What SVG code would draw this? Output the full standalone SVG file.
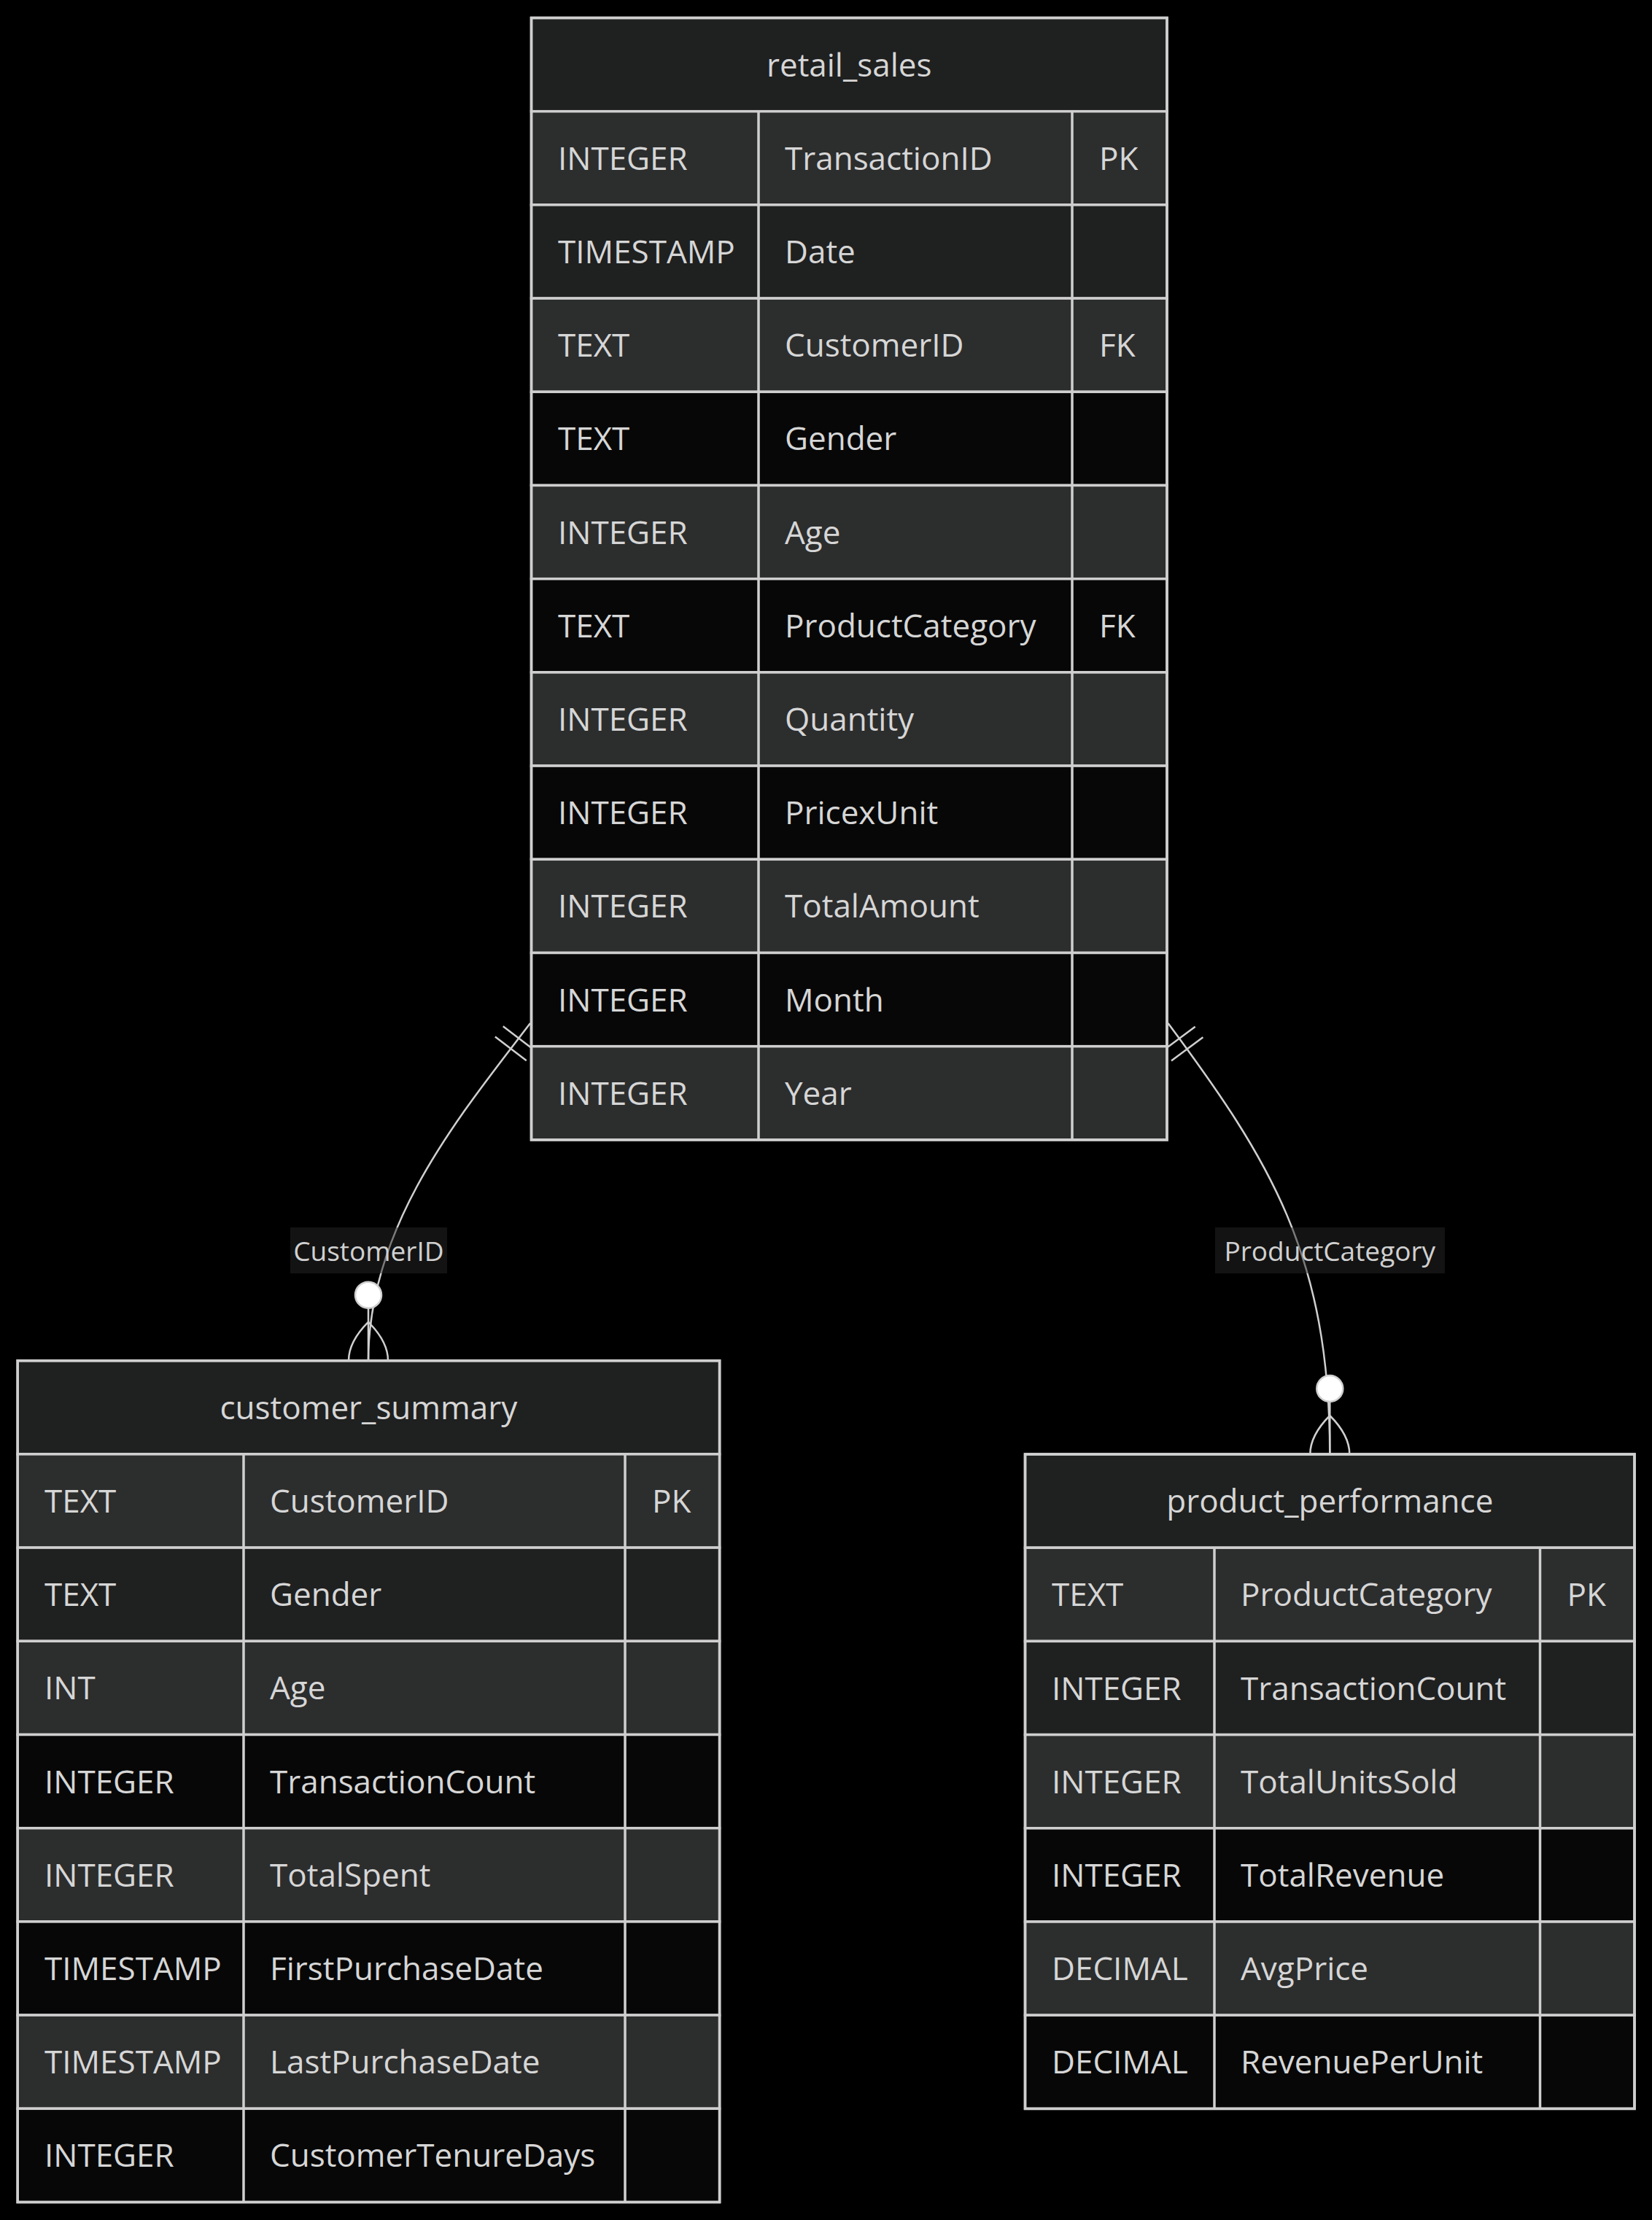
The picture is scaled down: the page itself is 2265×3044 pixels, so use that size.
<svg xmlns="http://www.w3.org/2000/svg" width="2265" height="3044" viewBox="0 0 2265 3044">
  <style>
    .hdr { fill: #1f2020; stroke: #cfcfcf; stroke-width: 3.5; }
    .odd { fill: #2c2d2d; stroke: #cfcfcf; stroke-width: 3.5; }
    .mid { fill: #1f2020; stroke: #cfcfcf; stroke-width: 3.5; }
    .even { fill: #070707; stroke: #cfcfcf; stroke-width: 3.5; }
    .frame { fill: none; stroke: #cfcfcf; stroke-width: 3.5; }
    .div { stroke: #cfcfcf; stroke-width: 3.5; }
    .t { font-family: "Open Sans", "Noto Sans", "Liberation Sans", sans-serif; font-size: 44px; fill: #d6d6d6; }
    .ttl { font-family: "Open Sans", "Noto Sans", "Liberation Sans", sans-serif; font-size: 44px; fill: #d6d6d6; text-anchor: middle; }
    .edge { fill: none; stroke: #d0d0d0; stroke-width: 2.5; }
    .mk { fill: none; stroke: #d0d0d0; stroke-width: 2.5; }
    .dot { fill: #ffffff; stroke: #cfcfcf; stroke-width: 2.5; }
    .lblbg { fill: #262626; opacity: 0.5; }
    .lbl { font-family: "Open Sans", "Noto Sans", "Liberation Sans", sans-serif; font-size: 37px; fill: #d0d0d0; text-anchor: middle; }
  </style>
  <defs>
    <!-- exactly-one: two ticks across the line near its start -->
    <marker id="onlyOne" markerUnits="userSpaceOnUse" orient="auto" refX="0" refY="0" markerWidth="1" markerHeight="1" overflow="visible">
      <path class="mk" d="M26,-27 L26,27 M44,-27 L44,27"/>
    </marker>
    <!-- zero-or-more: circle plus crow's foot at the line end -->
    <marker id="zeroOrMore" markerUnits="userSpaceOnUse" orient="auto" refX="0" refY="0" markerWidth="1" markerHeight="1" overflow="visible">
      <path class="mk" d="M-53,0 Q-26,27 0,27 M-53,0 Q-26,-27 0,-27 M-72,0 L0,0"/>
      <circle class="dot" cx="-90" cy="0" r="18"/>
    </marker>
  </defs>

  <rect x="0" y="0" width="2265" height="3044" fill="#000000"/>

  <g id="connectors">
    <path class="edge" d="M727,1403 C630,1530 505,1680 505,1865.7" marker-start="url(#onlyOne)" marker-end="url(#zeroOrMore)"/>
    <path class="edge" d="M1601.5,1403 C1740,1590 1823.3,1720 1823.3,1994" marker-start="url(#onlyOne)" marker-end="url(#zeroOrMore)"/>
    <g id="label-customerid">
      <rect class="lblbg" x="398" y="1683" width="215" height="63"/>
      <text class="lbl" x="505.4" y="1729">CustomerID</text>
    </g>
    <g id="label-productcategory">
      <rect class="lblbg" x="1666" y="1683" width="315" height="63"/>
      <text class="lbl" x="1823.3" y="1729">ProductCategory</text>
    </g>
  </g>

  <g id="retail_sales">
    <rect class="hdr" x="728.5" y="24.5" width="871.5" height="128.2"/>
    <text class="ttl" x="1164.2" y="104.6">retail_sales</text>
    <rect class="odd" x="728.5" y="152.7" width="871.5" height="128.2"/>
    <rect class="mid" x="728.5" y="280.9" width="871.5" height="128.2"/>
    <rect class="odd" x="728.5" y="409.1" width="871.5" height="128.2"/>
    <rect class="even" x="728.5" y="537.3" width="871.5" height="128.2"/>
    <rect class="odd" x="728.5" y="665.5" width="871.5" height="128.2"/>
    <rect class="even" x="728.5" y="793.7" width="871.5" height="128.2"/>
    <rect class="odd" x="728.5" y="921.9" width="871.5" height="128.2"/>
    <rect class="even" x="728.5" y="1050.1" width="871.5" height="128.2"/>
    <rect class="odd" x="728.5" y="1178.3" width="871.5" height="128.2"/>
    <rect class="even" x="728.5" y="1306.5" width="871.5" height="128.2"/>
    <rect class="odd" x="728.5" y="1434.7" width="871.5" height="128.2"/>
    <line class="div" x1="1040" y1="152.7" x2="1040" y2="1562.9"/>
    <line class="div" x1="1470" y1="152.7" x2="1470" y2="1562.9"/>
    <rect class="frame" x="728.5" y="24.5" width="871.5" height="1538.4"/>
    <text class="t" x="765" y="232.8">INTEGER</text><text class="t" x="1076" y="232.8">TransactionID</text><text class="t" x="1507" y="232.8">PK</text>
    <text class="t" x="765" y="361">TIMESTAMP</text><text class="t" x="1076" y="361">Date</text>
    <text class="t" x="765" y="489.2">TEXT</text><text class="t" x="1076" y="489.2">CustomerID</text><text class="t" x="1507" y="489.2">FK</text>
    <text class="t" x="765" y="617.4">TEXT</text><text class="t" x="1076" y="617.4">Gender</text>
    <text class="t" x="765" y="745.6">INTEGER</text><text class="t" x="1076" y="745.6">Age</text>
    <text class="t" x="765" y="873.8">TEXT</text><text class="t" x="1076" y="873.8">ProductCategory</text><text class="t" x="1507" y="873.8">FK</text>
    <text class="t" x="765" y="1002">INTEGER</text><text class="t" x="1076" y="1002">Quantity</text>
    <text class="t" x="765" y="1130.2">INTEGER</text><text class="t" x="1076" y="1130.2">PricexUnit</text>
    <text class="t" x="765" y="1258.4">INTEGER</text><text class="t" x="1076" y="1258.4">TotalAmount</text>
    <text class="t" x="765" y="1386.6">INTEGER</text><text class="t" x="1076" y="1386.6">Month</text>
    <text class="t" x="765" y="1514.8">INTEGER</text><text class="t" x="1076" y="1514.8">Year</text>
  </g>

  <g id="customer_summary">
    <rect class="hdr" x="24.2" y="1865.7" width="962.4" height="128.2"/>
    <text class="ttl" x="505.4" y="1945.8">customer_summary</text>
    <rect class="odd" x="24.2" y="1993.9" width="962.4" height="128.2"/>
    <rect class="mid" x="24.2" y="2122.1" width="962.4" height="128.2"/>
    <rect class="odd" x="24.2" y="2250.3" width="962.4" height="128.2"/>
    <rect class="even" x="24.2" y="2378.5" width="962.4" height="128.2"/>
    <rect class="odd" x="24.2" y="2506.7" width="962.4" height="128.2"/>
    <rect class="even" x="24.2" y="2634.9" width="962.4" height="128.2"/>
    <rect class="odd" x="24.2" y="2763.1" width="962.4" height="128.2"/>
    <rect class="even" x="24.2" y="2891.3" width="962.4" height="128.2"/>
    <line class="div" x1="334" y1="1993.9" x2="334" y2="3019.5"/>
    <line class="div" x1="857" y1="1993.9" x2="857" y2="3019.5"/>
    <rect class="frame" x="24.2" y="1865.7" width="962.4" height="1153.8"/>
    <text class="t" x="61" y="2074">TEXT</text><text class="t" x="370" y="2074">CustomerID</text><text class="t" x="894" y="2074">PK</text>
    <text class="t" x="61" y="2202.2">TEXT</text><text class="t" x="370" y="2202.2">Gender</text>
    <text class="t" x="61" y="2330.4">INT</text><text class="t" x="370" y="2330.4">Age</text>
    <text class="t" x="61" y="2458.6">INTEGER</text><text class="t" x="370" y="2458.6">TransactionCount</text>
    <text class="t" x="61" y="2586.8">INTEGER</text><text class="t" x="370" y="2586.8">TotalSpent</text>
    <text class="t" x="61" y="2715">TIMESTAMP</text><text class="t" x="370" y="2715">FirstPurchaseDate</text>
    <text class="t" x="61" y="2843.2">TIMESTAMP</text><text class="t" x="370" y="2843.2">LastPurchaseDate</text>
    <text class="t" x="61" y="2971.4">INTEGER</text><text class="t" x="370" y="2971.4">CustomerTenureDays</text>
  </g>

  <g id="product_performance">
    <rect class="hdr" x="1405.5" y="1994" width="835.5" height="128.2"/>
    <text class="ttl" x="1823.3" y="2074.1">product_performance</text>
    <rect class="odd" x="1405.5" y="2122.2" width="835.5" height="128.2"/>
    <rect class="mid" x="1405.5" y="2250.4" width="835.5" height="128.2"/>
    <rect class="odd" x="1405.5" y="2378.6" width="835.5" height="128.2"/>
    <rect class="even" x="1405.5" y="2506.8" width="835.5" height="128.2"/>
    <rect class="odd" x="1405.5" y="2635" width="835.5" height="128.2"/>
    <rect class="even" x="1405.5" y="2763.2" width="835.5" height="128.2"/>
    <line class="div" x1="1665" y1="2122.2" x2="1665" y2="2891.4"/>
    <line class="div" x1="2111.5" y1="2122.2" x2="2111.5" y2="2891.4"/>
    <rect class="frame" x="1405.5" y="1994" width="835.5" height="897.4"/>
    <text class="t" x="1442" y="2202.3">TEXT</text><text class="t" x="1701" y="2202.3">ProductCategory</text><text class="t" x="2148.5" y="2202.3">PK</text>
    <text class="t" x="1442" y="2330.5">INTEGER</text><text class="t" x="1701" y="2330.5">TransactionCount</text>
    <text class="t" x="1442" y="2458.7">INTEGER</text><text class="t" x="1701" y="2458.7">TotalUnitsSold</text>
    <text class="t" x="1442" y="2586.9">INTEGER</text><text class="t" x="1701" y="2586.9">TotalRevenue</text>
    <text class="t" x="1442" y="2715.1">DECIMAL</text><text class="t" x="1701" y="2715.1">AvgPrice</text>
    <text class="t" x="1442" y="2843.3">DECIMAL</text><text class="t" x="1701" y="2843.3">RevenuePerUnit</text>
  </g>
</svg>
